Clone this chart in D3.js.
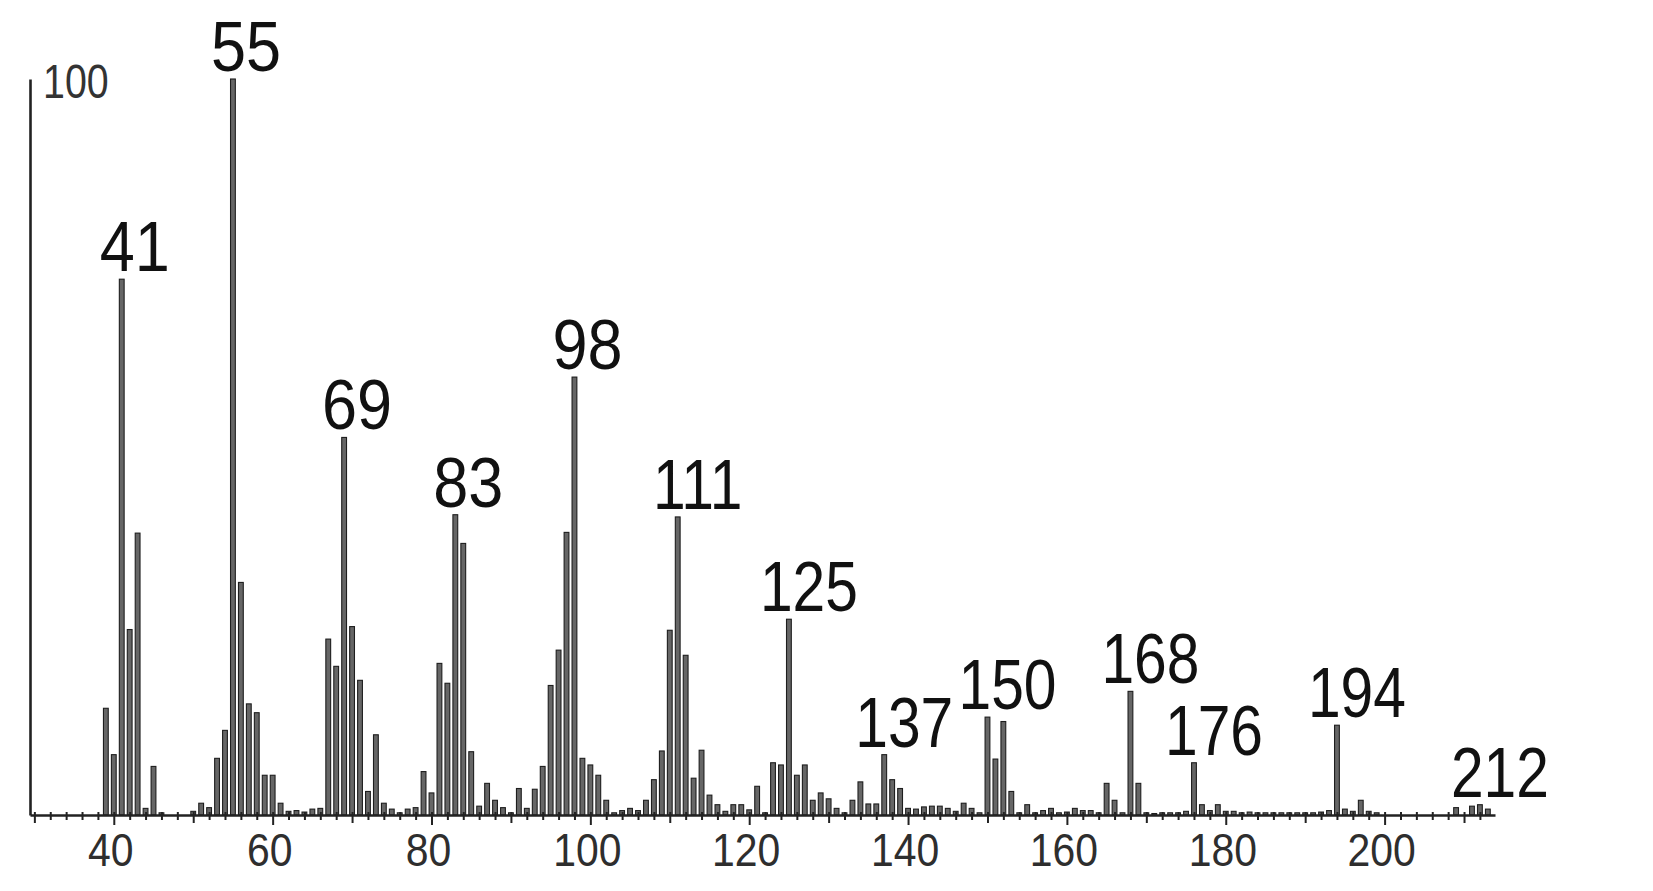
<!DOCTYPE html>
<html>
<head>
<meta charset="utf-8">
<script src="https://cdn.jsdelivr.net/npm/d3@7"></script>
<style>
  html, body { margin: 0; padding: 0; background: #fff; }
  svg { display: block; }
  text { font-family: "Liberation Sans", Arial, sans-serif; }
</style>
</head>
<body>
<svg width="1653" height="891"></svg>
<script>
// m/z values and relative intensities (%)
const masses = [39, 40, 41, 42, 43, 44, 45, 46, 50, 51, 52, 53, 54, 55, 56, 57, 58, 59, 60,
  61, 62, 63, 64, 65, 66, 67, 68, 69, 70, 71, 72, 73, 74, 75, 76, 77, 78, 79, 80,
  81, 82, 83, 84, 85, 86, 87, 88, 89, 90, 91, 92, 93, 94, 95, 96, 97, 98, 99, 100,
  101, 102, 103, 104, 105, 106, 107, 108, 109, 110, 111, 112, 113, 114, 115, 116, 117, 118, 119, 120,
  121, 122, 123, 124, 125, 126, 127, 128, 129, 130, 131, 132, 133, 134, 135, 136, 137, 138, 139, 140,
  141, 142, 143, 144, 145, 146, 147, 148, 149, 150, 151, 152, 153, 154, 155, 156, 157, 158, 159, 160,
  161, 162, 163, 164, 165, 166, 167, 168, 169, 170, 171, 172, 173, 174, 175, 176, 177, 178, 179, 180,
  181, 182, 183, 184, 185, 186, 187, 188, 189, 190, 191, 192, 193, 194, 195, 196, 197, 198, 199,
  209, 211, 212, 213];
const intensities = [14.5, 8.2, 72.8, 25.2, 38.3, 0.9, 6.6, 0.3, 0.5, 1.6, 1.0, 7.7, 11.5, 100, 31.6, 15.1, 13.9, 5.4, 5.4,
  1.6, 0.5, 0.6, 0.4, 0.8, 0.9, 23.9, 20.2, 51.3, 25.6, 18.3, 3.2, 10.9, 1.6, 0.8, 0.3, 0.8, 1.0, 5.9, 3.0,
  20.6, 17.9, 40.8, 36.9, 8.6, 1.2, 4.3, 2.0, 1.0, 0.3, 3.6, 0.9, 3.5, 6.6, 17.6, 22.4, 38.4, 59.5, 7.7, 6.8,
  5.4, 2.0, 0.3, 0.6, 0.9, 0.6, 2.0, 4.8, 8.7, 25.1, 40.5, 21.7, 5.0, 8.8, 2.7, 1.4, 0.5, 1.4, 1.4, 0.7,
  3.9, 0.3, 7.1, 6.8, 26.6, 5.4, 6.8, 2.0, 3.0, 2.2, 0.9, 0.3, 2.0, 4.5, 1.5, 1.5, 8.2, 4.8, 3.6, 0.9,
  0.8, 1.1, 1.2, 1.2, 0.9, 0.5, 1.6, 0.9, 0.3, 13.3, 7.6, 12.7, 3.2, 0.3, 1.4, 0.3, 0.6, 0.9, 0.3, 0.4,
  0.9, 0.6, 0.6, 0.3, 4.3, 2.0, 0.3, 16.8, 4.3, 0.3, 0.2, 0.3, 0.3, 0.3, 0.5, 7.1, 1.4, 0.6, 1.4, 0.5,
  0.5, 0.3, 0.4, 0.3, 0.3, 0.3, 0.3, 0.3, 0.3, 0.3, 0.3, 0.4, 0.6, 12.2, 0.8, 0.5, 2.0, 0.5, 0.3,
  1.0, 1.2, 1.4, 0.8];

// peaks that carry an m/z label
const labelledPeaks = [41, 55, 69, 83, 98, 111, 125, 137, 150, 168, 176, 194, 212];

// axis ticks
const xTickLabels = [40, 60, 80, 100, 120, 140, 160, 180, 200];
const yTickLabels = [100];

const data = masses.map((m, i) => ({ m: m, v: intensities[i] }));

const svg = d3.select("svg");

const xScale = d3.scaleLinear()
    .domain([29.45, 213.9])
    .range([30, 1495]);

const yScale = d3.scaleLinear()
    .domain([0, 100])
    .range([815, 79]);

// bars
svg.append("g")
    .selectAll("rect")
    .data(data)
    .enter()
    .append("rect")
    .attr("x", d => xScale(d.m) - 2.4)
    .attr("y", d => yScale(d.v))
    .attr("width", 4.8)
    .attr("height", d => yScale(0) - yScale(d.v))
    .attr("fill", "#666")
    .attr("stroke", "#1e1e1e")
    .attr("stroke-width", 1.1);

// x axis: line with small ticks every 2 units
const minorAxis = svg.append("g")
    .attr("transform", "translate(0," + yScale(0) + ")")
    .call(d3.axisBottom(xScale)
        .tickValues(d3.range(30, 214, 2))
        .tickSizeOuter(0)
        .tickFormat(""));

minorAxis.select(".domain").attr("stroke", "#222").attr("stroke-width", 2.6);
minorAxis.selectAll(".tick line")
    .attr("stroke", "#222")
    .attr("stroke-width", 2)
    .attr("y1", -3)
    .attr("y2", d => d % 20 === 0 ? 10 : (d % 10 === 0 ? 8 : 5));

// x tick labels
const labelAxis = svg.append("g")
    .attr("transform", "translate(0," + yScale(0) + ")")
    .call(d3.axisBottom(xScale)
        .tickValues(xTickLabels)
        .tickSize(0)
        .tickSizeOuter(0));

labelAxis.select(".domain").remove();
labelAxis.selectAll(".tick text")
    .attr("font-family", "Liberation Sans, Arial, sans-serif")
    .attr("font-size", 47)
    .attr("fill", "#2e2e2e")
    .attr("dy", 0)
    .attr("y", 51)
    .attr("x", -4)
    .attr("transform", "scale(0.87,1)");

// y axis: vertical line with the 100 mark
const yAxis = svg.append("g")
    .attr("transform", "translate(30,0)")
    .call(d3.axisRight(yScale)
        .tickValues(yTickLabels)
        .tickSize(0)
        .tickSizeOuter(0)
        .tickPadding(0));

yAxis.select(".domain").attr("stroke", "#222").attr("stroke-width", 2.6);
yAxis.selectAll(".tick text")
    .attr("font-family", "Liberation Sans, Arial, sans-serif")
    .attr("font-size", 48)
    .attr("fill", "#333")
    .attr("x", 0)
    .attr("dy", "0.32em")
    .attr("transform", "translate(13,3) scale(0.82,1)");

// peak labels
const labelData = data.filter(d => labelledPeaks.includes(d.m));

svg.append("g")
    .selectAll("g")
    .data(labelData)
    .enter()
    .append("g")
    .attr("transform", d => "translate(" + (xScale(d.m) + (String(d.m).length === 2 ? 13 : 20)) + "," + (yScale(d.v) - 8) + ")")
    .append("text")
    .attr("text-anchor", "middle")
    .attr("font-size", 70)
    .attr("fill", "#111")
    .attr("transform", d => String(d.m).length === 2 ? "scale(0.9,1)" : "scale(0.84,1)")
    .text(d => d.m);
</script>
</body>
</html>
